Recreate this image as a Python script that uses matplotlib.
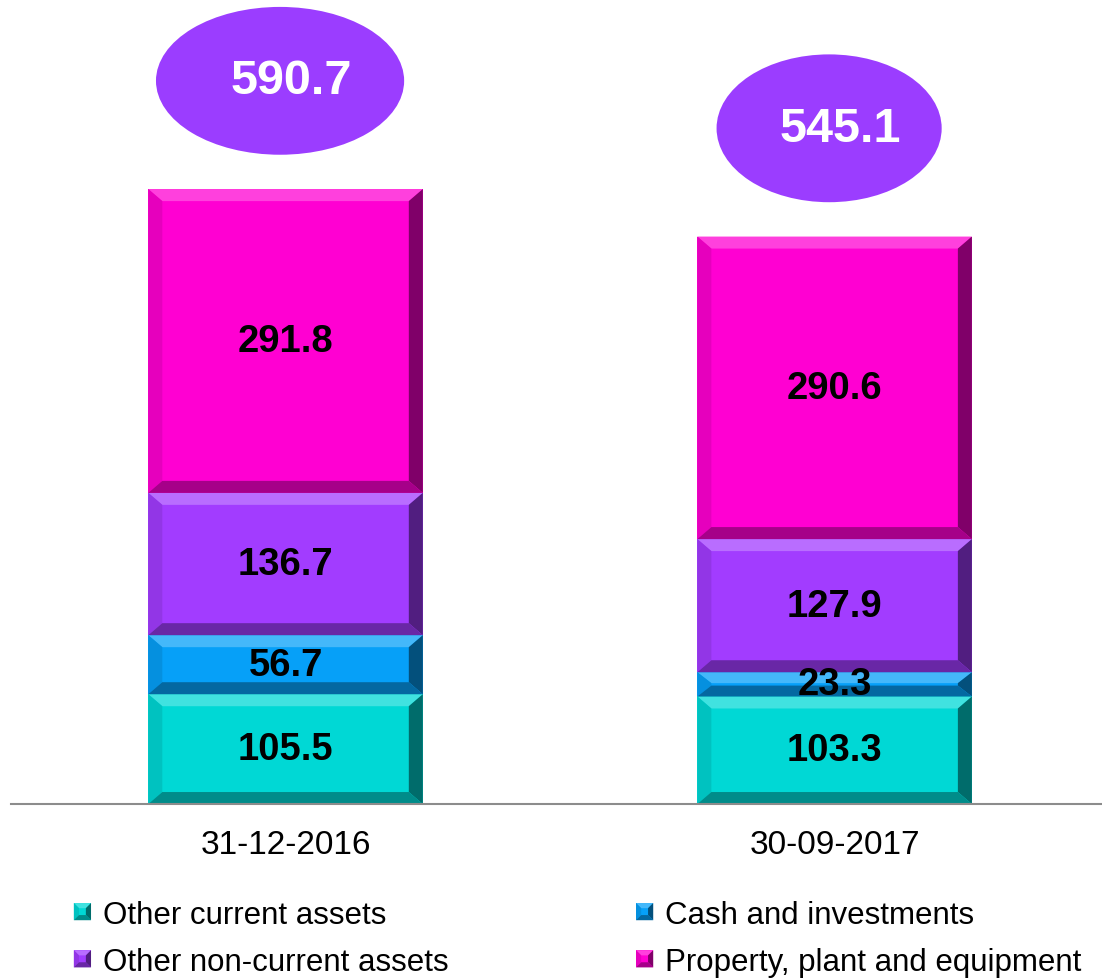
import matplotlib
matplotlib.use('Agg')
import matplotlib.pyplot as plt
from matplotlib.patches import Polygon, Ellipse
from matplotlib.legend_handler import HandlerBase
from matplotlib.container import BarContainer
import matplotlib.colors as mc
import numpy as np

plt.rcParams['font.family'] = ['Liberation Sans', 'DejaVu Sans']

categories = ['31-12-2016', '30-09-2017']
other_current = [105.5, 103.3]
cash_investments = [56.7, 23.3]
other_noncurrent = [136.7, 127.9]
ppe = [291.8, 290.6]
totals = [590.7, 545.1]
series_names = ['Other current assets', 'Cash and investments',
                'Other non-current assets', 'Property, plant and equipment']

colors = ['#00D8D5', '#06A0F8', '#A23CFF', '#FF00D2']
ellipse_color = '#9B3DFF'


def shade(c, f):
    r, g, b = mc.to_rgb(c)
    if f >= 0:
        return (r + (1 - r) * f, g + (1 - g) * f, b + (1 - b) * f)
    f = -f
    return (r * (1 - f), g * (1 - f), b * (1 - f))


def bevel_polys(x0, y0, x1, y1, bx, by, c):
    ix0, iy0, ix1, iy1 = x0 + bx, y0 + by, x1 - bx, y1 - by
    return [
        ([(x0, y1), (x1, y1), (ix1, iy1), (ix0, iy1)], shade(c, 0.25)),
        ([(x0, y0), (x0, y1), (ix0, iy1), (ix0, iy0)], shade(c, -0.10)),
        ([(x1, y0), (x1, y1), (ix1, iy1), (ix1, iy0)], shade(c, -0.50)),
        ([(x0, y0), (x1, y0), (ix1, iy0), (ix0, iy0)], shade(c, -0.35)),
    ]


class BevelHandler(HandlerBase):
    def create_artists(self, legend, orig_handle, xdescent, ydescent,
                       width, height, fontsize, trans):
        c = orig_handle.patches[0].get_facecolor()
        s = min(width, height)
        x0 = -xdescent
        y0 = -ydescent + (height - s) / 2
        b = s * 0.3
        arts = [Polygon([(x0, y0), (x0 + s, y0), (x0 + s, y0 + s), (x0, y0 + s)],
                        closed=True, facecolor=c, edgecolor='none', transform=trans)]
        for pts, col in bevel_polys(x0, y0, x0 + s, y0 + s, b, b, c):
            arts.append(Polygon(pts, closed=True, facecolor=col, edgecolor='none',
                                transform=trans))
        return arts


fig = plt.figure(figsize=(11.02, 9.79), dpi=100)
ax = fig.add_axes([0.01, 0.1777, 0.99, 0.8223])
ax.set_xlim(-0.5, 1.487)
ax.set_ylim(0, 773.3)

x = np.arange(len(categories))
width = 0.5
series = [other_current, cash_investments, other_noncurrent, ppe]
bottom = np.zeros(len(categories))
containers = []
for vals, col, name in zip(series, colors, series_names):
    bc = ax.bar(x, vals, width, bottom=bottom, color=col, label=name, edgecolor='none')
    containers.append(bc)
    bottom = bottom + np.array(vals)

fig.canvas.draw()
p0 = ax.transData.transform((0, 0))
p1 = ax.transData.transform((1, 1))
px_x = p1[0] - p0[0]
px_y = p1[1] - p0[1]
bx = 14 / px_x
by_full = 12 / px_y

for bc, col in zip(containers, colors):
    for rect in bc.patches:
        rx0, ry0 = rect.get_x(), rect.get_y()
        rx1, ry1 = rx0 + rect.get_width(), ry0 + rect.get_height()
        by = min(by_full, rect.get_height() * 0.45)
        for pts, c in bevel_polys(rx0, ry0, rx1, ry1, bx, by, col):
            ax.add_patch(Polygon(pts, closed=True, facecolor=c, edgecolor='none', zorder=2))
        ax.text(rx0 + rect.get_width() / 2, ry0 + rect.get_height() / 2,
                f'{rect.get_height():.1f}', ha='center', va='center',
                fontsize=27.5, fontweight='bold', color='black', zorder=5)

ell_w = [0.452, 0.41]
ell_h = 142
for i, t in enumerate(totals):
    cy = t + 104
    ax.add_patch(Ellipse((x[i] - 0.01, cy), ell_w[i], ell_h, facecolor=ellipse_color,
                         edgecolor='none', clip_on=False, zorder=4))
    ax.text(x[i] + 0.01, cy, f'{t:.1f}', ha='center', va='center', fontsize=35,
            fontweight='bold', color='white', zorder=5)

for s in ['top', 'right', 'left']:
    ax.spines[s].set_visible(False)
ax.spines['bottom'].set_color('#8C8C8C')
ax.spines['bottom'].set_linewidth(1.5)
ax.set_yticks([])
ax.set_xticks(x)
ax.set_xticklabels(categories, fontsize=24)
ax.tick_params(axis='x', length=0, pad=18)

order = [0, 2, 1, 3]
fig.legend([containers[i] for i in order], [series_names[i] for i in order],
           handler_map={BarContainer: BevelHandler()},
           loc='upper left', bbox_to_anchor=(0.067, 0.080), ncol=2, frameon=False,
           fontsize=22.5, handlelength=0.55, handleheight=0.55, handletextpad=0.38,
           columnspacing=6.0, labelspacing=0.55, borderpad=0, borderaxespad=0)

fig.savefig('out.png', dpi=100)
